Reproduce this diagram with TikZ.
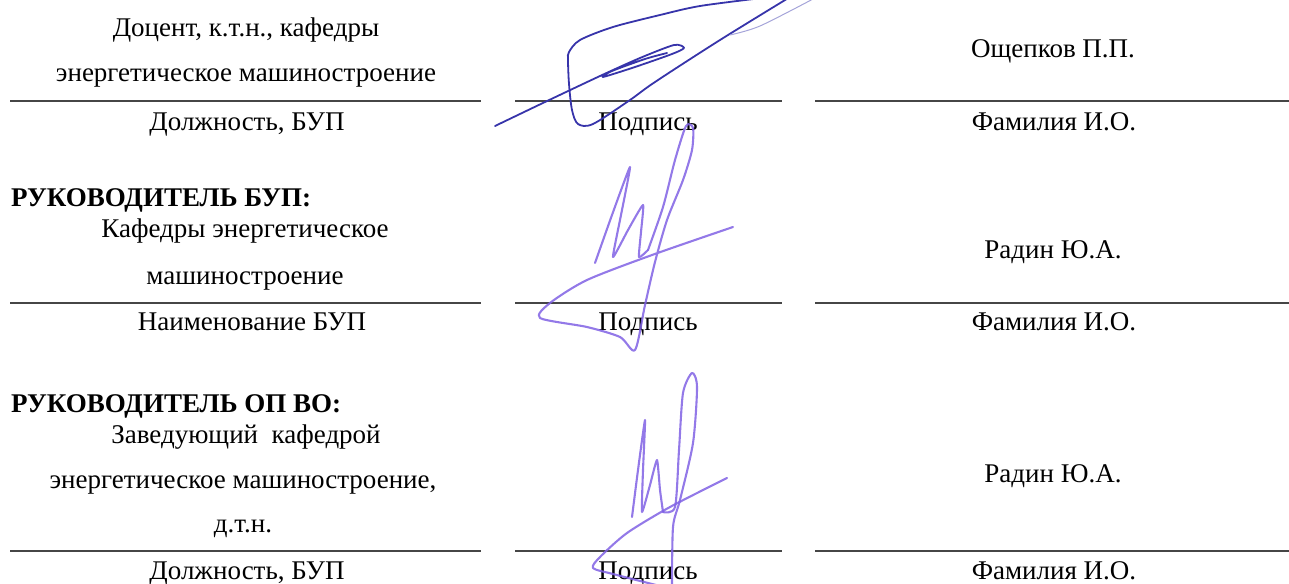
\documentclass[tikz,border=0pt]{standalone}
\usepackage{fontspec}
\setmainfont{Liberation Serif}
\usepackage{tikz}
\usetikzlibrary{positioning}
\definecolor{inkblue}{RGB}{55,52,170}
\definecolor{inkviolet}{RGB}{128,98,228}
\definecolor{rulegray}{RGB}{70,70,70}
\tikzset{x=1pt,y=-1pt}
\tikzset{txt/.style={font=\fontsize{27}{30}\selectfont,anchor=base,inner sep=0pt}}
\tikzset{head/.style={font=\fontsize{27}{30}\selectfont\bfseries,anchor=base west,inner sep=0pt}}
\tikzset{rule/.style={draw=rulegray,line width=1.4pt}}
\tikzset{signblue/.style={draw=inkblue,line width=1.8pt,line cap=round,line join=round}}
\tikzset{signlight/.style={draw=inkblue!45,line width=1pt,line cap=round}}
\tikzset{signviolet/.style={draw=inkviolet,line width=2.1pt,opacity=.85,line cap=round,line join=round}}

\begin{document}
\begin{tikzpicture}
                \useasboundingbox (0,0) rectangle (1289,583);
                % rows of rules
                \coordinate (r1a) at (10,101);  \coordinate (r1b) at (481,101);
                \coordinate (r1c) at (515,101); \coordinate (r1d) at (782,101);
                \coordinate (r1e) at (815,101); \coordinate (r1f) at (1289,101);
                \coordinate (r2a) at (10,303);  \coordinate (r2b) at (481,303);
                \coordinate (r2c) at (515,303); \coordinate (r2d) at (782,303);
                \coordinate (r2e) at (815,303); \coordinate (r2f) at (1289,303);
                \coordinate (r3a) at (10,551);  \coordinate (r3b) at (481,551);
                \coordinate (r3c) at (515,551); \coordinate (r3d) at (782,551);
                \coordinate (r3e) at (815,551); \coordinate (r3f) at (1289,551);
                \draw[rule] (r1a) -- (r1b)  (r1c) -- (r1d)  (r1e) -- (r1f);
                \draw[rule] (r2a) -- (r2b)  (r2c) -- (r2d)  (r2e) -- (r2f);
                \draw[rule] (r3a) -- (r3b)  (r3c) -- (r3d)  (r3e) -- (r3f);

                % first row
                \node[txt] (pos1a) at (246,37)  {Доцент, к.т.н., кафедры};
                \node[txt] (pos1b) at (246,82)  {энергетическое машиностроение};
                \node[txt] (name1) at (1053,58) {Ощепков П.П.};
                \node[txt] (cap1a) at (247,131) {Должность, БУП};
                \node[txt] (cap1b) at (648,131) {Подпись};
                \node[txt] (cap1c) at (1054,131) {Фамилия И.О.};

                % second row
                \node[head] (head2) at (11,206) {РУКОВОДИТЕЛЬ БУП:};
                \node[txt] (pos2a) at (245,237) {Кафедры энергетическое};
                \node[txt] (pos2b) at (245,284) {машиностроение};
                \node[txt] (name2) at (1053,258) {Радин Ю.А.};
                \node[txt] (cap2a) at (252,330) {Наименование БУП};
                \node[txt] (cap2b) at (648,330) {Подпись};
                \node[txt] (cap2c) at (1054,330) {Фамилия И.О.};

                % third row
                \node[head] (head3) at (11,412) {РУКОВОДИТЕЛЬ ОП ВО:};
                \node[txt] (pos3a) at (246,443) {Заведующий\ \ кафедрой};
                \node[txt] (pos3b) at (243,488) {энергетическое машиностроение,};
                \node[txt] (pos3c) at (243,532) {д.т.н.};
                \node[txt] (name3) at (1053,482) {Радин Ю.А.};
                \node[txt] (cap3a) at (247,579) {Должность, БУП};
                \node[txt] (cap3b) at (648,579) {Подпись};
                \node[txt] (cap3c) at (1054,579) {Фамилия И.О.};

                % signature, first row
                \draw[signblue] plot[smooth,tension=.45] coordinates {(495,126) (545,102) (600,76)
                    (640,58) (674,45) (684,48) (672,54) (635,67) (603,77) (612,71) (645,59) (667,53)};
                \draw[signblue] plot[smooth,tension=.5] coordinates {(762,-2) (700,6) (660,15) (613,27)
                    (580,40) (569,52) (568,60) (569,84) (572,110) (578,124) (593,124) (630,100)
                    (655,82) (720,40) (790,-3)};
                \draw[signlight] plot[smooth] coordinates {(730,35) (760,26) (813,-1)};

                % signature, second row
                \draw[signviolet] plot[smooth,tension=.3] coordinates {(595,263) (612,215) (630,167)
                    (621,215) (613,257) (628,230) (643,205) (641,232) (639,257) (648,250)};
                \draw[signviolet] plot[smooth,tension=.45] coordinates {(648,250) (663,207) (675,160)
                    (686,126) (693,128) (692,150) (683,180) (667,220) (655,262) (645,305) (635,350)
                    (620,337) (587,327) (540,318) (550,303) (587,280) (652,255) (733,227)};

                % signature, third row
                \draw[signviolet] plot[smooth,tension=.3] coordinates {(632,517) (638,470) (645,420)
                    (643,470) (642,512) (650,485) (657,460) (660,490) (663,512)};
                \draw[signviolet] plot[smooth,tension=.45] coordinates {(663,512) (675,507) (679,450)
                    (683,393) (692,373) (697,387) (693,443) (680,500) (673,527) (672,590)};
                \draw[signviolet] plot[smooth,tension=.45] coordinates {(727,478) (670,507) (627,533)
                    (600,557) (593,568) (613,574) (660,586)};
\end{tikzpicture}
\end{document}
